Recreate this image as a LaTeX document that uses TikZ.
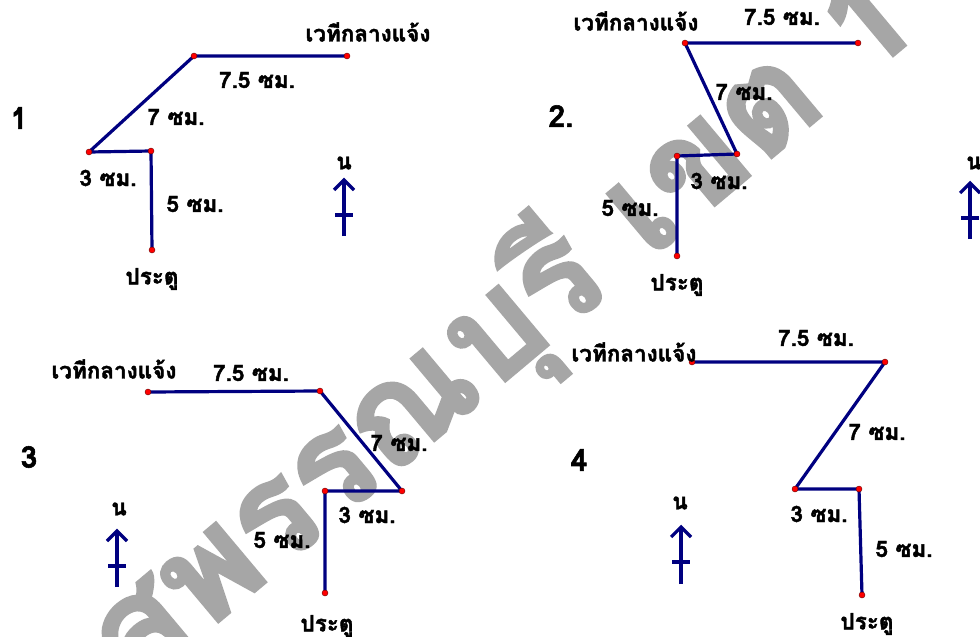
\documentclass[tikz,border=0pt]{standalone}
\usepackage{fontspec}
\setmainfont{Loma}[Script=Thai, BoldFeatures={FakeBold=1.8}]
\definecolor{navyline}{RGB}{0,0,128}
\definecolor{wmgray}{RGB}{166,166,166}
\tikzset{
  route/.style={draw=navyline, line width=3.2pt, line join=round, line cap=round},
  dot/.style={fill=red, draw=red!40!black, line width=0.4pt},
  lbl/.style={font=\fontsize{22.5}{26}\selectfont\bfseries, inner sep=0pt, text=black},
  num/.style={font=\fontsize{30}{34}\selectfont\bfseries, inner sep=0pt, text=black},
  northline/.style={draw=navyline, line width=3.2pt},
  wmk/.style={font=\fontsize{140}{150}\selectfont\bfseries, text=wmgray, inner sep=0pt}
}
\begin{document}
\begin{tikzpicture}[x=1pt,y=-1pt]
\path[use as bounding box] (0,0) rectangle (980,637);
\fill[white] (0,0) rectangle (980,637);
% watermark
\node[wmk, rotate=40] (wm) at (505,328) {สุพรรณบุรี เขต 1};

% ---------- panel 1
\coordinate (a1) at (347,56);
\coordinate (b1) at (194,56);
\coordinate (c1) at (89,152);
\coordinate (d1) at (151,151);
\coordinate (e1) at (152,250);
\draw[route] (a1) -- (b1) -- (c1) -- (d1) -- (e1);
\foreach \p in {a1,b1,c1,d1,e1} \filldraw[dot] (\p) circle (3pt);
\node[lbl] (t1a) at (368,32) {เวทีกลางแจ้ง};
\node[lbl] (t1b) at (257,80) {7.5 ซม.};
\node[lbl] (t1c) at (176,117) {7 ซม.};
\node[lbl] (t1d) at (108,178) {3 ซม.};
\node[lbl] (t1e) at (195,204) {5 ซม.};
\node[lbl] (t1f) at (152,279) {ประตู};
\node[num] (n1) at (19,118) {1};
\node[lbl] (k1) at (344,163) {น};
\coordinate (k1t) at (344,180);
\coordinate (k1b) at (344,236);
\coordinate (k1c) at (344,215);
\draw[northline] (k1b) -- (k1t);
\draw[northline] ([shift={(-10,10)}]k1t) -- (k1t) -- ([shift={(10,10)}]k1t);
\draw[northline] ([xshift=-9pt]k1c) -- ([xshift=9pt]k1c);

% ---------- panel 2
\coordinate (a2) at (858,43);
\coordinate (b2) at (685,43);
\coordinate (c2) at (737,154);
\coordinate (d2) at (677,156);
\coordinate (e2) at (677,256);
\draw[route] (a2) -- (b2) -- (c2) -- (d2) -- (e2);
\foreach \p in {a2,b2,c2,d2,e2} \filldraw[dot] (\p) circle (3pt);
\node[lbl] (t2a) at (636,21) {เวทีกลางแจ้ง};
\node[lbl] (t2b) at (782,17) {7.5 ซม.};
\node[lbl] (t2c) at (744,92) {7 ซม.};
\node[lbl] (t2d) at (719,181) {3 ซม.};
\node[lbl] (t2e) at (630,208) {5 ซม.};
\node[lbl] (t2f) at (677,285) {ประตู};
\node[num] (n2) at (561,116) {2.};
\node[lbl] (k2) at (974,163) {น};
\coordinate (k2t) at (970,183);
\coordinate (k2b) at (970,239);
\coordinate (k2c) at (970,218);
\draw[northline] (k2b) -- (k2t);
\draw[northline] ([shift={(-10,10)}]k2t) -- (k2t) -- ([shift={(10,10)}]k2t);
\draw[northline] ([xshift=-9pt]k2c) -- ([xshift=9pt]k2c);

% ---------- panel 3
\coordinate (a3) at (148,392);
\coordinate (b3) at (320,391);
\coordinate (c3) at (402,491);
\coordinate (d3) at (325,491);
\coordinate (e3) at (325,593);
\draw[route] (a3) -- (b3) -- (c3) -- (d3) -- (e3);
\foreach \p in {a3,b3,c3,d3,e3} \filldraw[dot] (\p) circle (3pt);
\node[lbl] (t3a) at (114,369) {เวทีกลางแจ้ง};
\node[lbl] (t3b) at (251,373) {7.5 ซม.};
\node[lbl] (t3c) at (399,443) {7 ซม.};
\node[lbl] (t3d) at (367,515) {3 ซม.};
\node[lbl] (t3e) at (282,540) {5 ซม.};
\node[lbl] (t3f) at (327,626) {ประตู};
\node[num] (n3) at (29,457) {3};
\node[lbl] (k3) at (119,509) {น};
\coordinate (k3t) at (117,531);
\coordinate (k3b) at (117,587);
\coordinate (k3c) at (117,566);
\draw[northline] (k3b) -- (k3t);
\draw[northline] ([shift={(-10,10)}]k3t) -- (k3t) -- ([shift={(10,10)}]k3t);
\draw[northline] ([xshift=-9pt]k3c) -- ([xshift=9pt]k3c);

% ---------- panel 4
\coordinate (a4) at (692,362);
\coordinate (b4) at (885,362);
\coordinate (c4) at (795,489);
\coordinate (d4) at (859,489);
\coordinate (e4) at (862,595);
\draw[route] (a4) -- (b4) -- (c4) -- (d4) -- (e4);
\foreach \p in {a4,b4,c4,d4,e4} \filldraw[dot] (\p) circle (3pt);
\node[lbl] (t4a) at (634,352) {เวทีกลางแจ้ง};
\node[lbl] (t4b) at (816,338) {7.5 ซม.};
\node[lbl] (t4c) at (877,432) {7 ซม.};
\node[lbl] (t4d) at (819,514) {3 ซม.};
\node[lbl] (t4e) at (904,549) {5 ซม.};
\node[lbl] (t4f) at (867,624) {ประตู};
\node[num] (n4) at (579,460) {4};
\node[lbl] (k4) at (680,503) {น};
\coordinate (k4t) at (681,527);
\coordinate (k4b) at (681,584);
\coordinate (k4c) at (681,562);
\draw[northline] (k4b) -- (k4t);
\draw[northline] ([shift={(-10,10)}]k4t) -- (k4t) -- ([shift={(10,10)}]k4t);
\draw[northline] ([xshift=-9pt]k4c) -- ([xshift=9pt]k4c);
\end{tikzpicture}
\end{document}
